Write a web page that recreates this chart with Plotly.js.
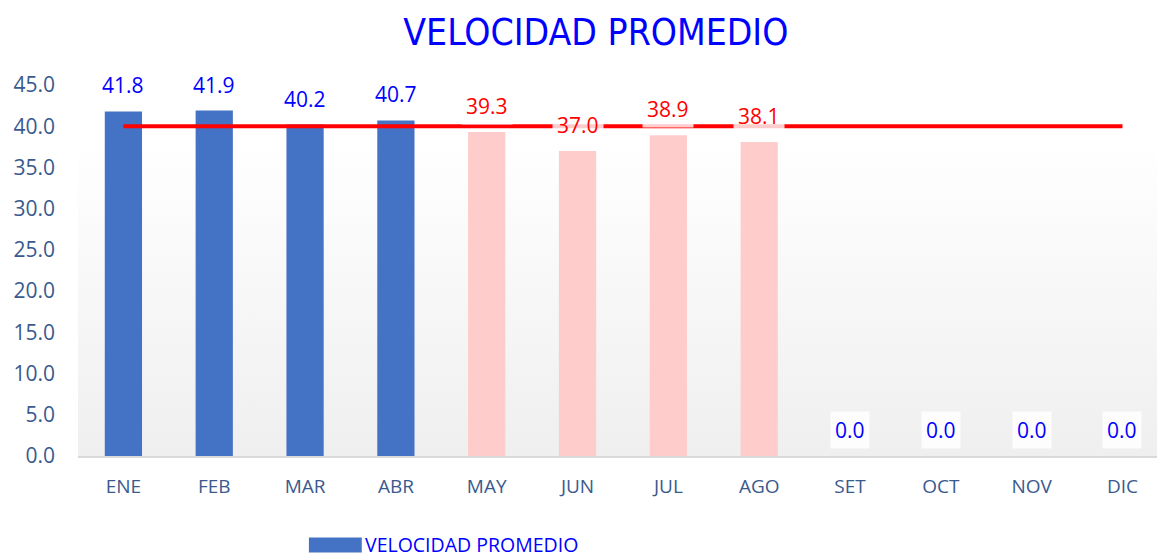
<!DOCTYPE html>
<html>
<head>
<meta charset="utf-8">
<script src="https://cdn.plot.ly/plotly-3.0.1.min.js"></script>
<style>
html,body{margin:0;padding:0;background:#fff;}
#chart{width:1157px;height:557px;}
</style>
</head>
<body>
<div id="chart"></div>
<script>
const months = ["ENE","FEB","MAR","ABR","MAY","JUN","JUL","AGO","SET","OCT","NOV","DIC"];
const velocidad = [41.8, 41.9, 40.2, 40.7, 39.3, 37.0, 38.9, 38.1, 0.0, 0.0, 0.0, 0.0];
const meta = [40, 40, 40, 40, 40, 40, 40, 40, 40, 40, 40, 40];
const barColors = ["#4472C4","#4472C4","#4472C4","#4472C4","#FFCCCC","#FFCCCC","#FFCCCC","#FFCCCC","#4472C4","#4472C4","#4472C4","#4472C4"];
const labelColors = ["#0000FF","#0000FF","#0000FF","#0000FF","#FF0000","#FF0000","#FF0000","#FF0000","#0000FF","#0000FF","#0000FF","#0000FF"];
const labelBoxes = ["rgba(0,0,0,0)","rgba(0,0,0,0)","rgba(0,0,0,0)","rgba(0,0,0,0)","rgba(255,255,255,0.8)","rgba(255,255,255,0.8)","rgba(255,255,255,0.8)","rgba(255,255,255,0.8)","rgba(255,255,255,0.85)","rgba(255,255,255,0.85)","rgba(255,255,255,0.85)","rgba(255,255,255,0.85)"];
const seriesName = "VELOCIDAD PROMEDIO";

const FONT = "Open Sans";
const tickColor = "#3A5A8E";

const traces = [
  {
    type: "bar", x: months, y: velocidad, name: seriesName,
    marker: {color: barColors}, width: 0.41, showlegend: false, hoverinfo: "x+y"
  },
  {
    type: "scatter", mode: "lines", x: months, y: meta, name: "Meta",
    line: {color: "#FF0000", width: 4}, showlegend: false, hoverinfo: "y"
  }
];

const annotations = months.map((m, i) => ({
  x: m, y: velocidad[i], xref: "x", yref: "y",
  text: velocidad[i].toFixed(1), showarrow: false, yshift: 26,
  font: {family: FONT, size: 21, color: labelColors[i]},
  bgcolor: labelBoxes[i], borderpad: 4
}));
annotations.push({
  x: 0.265, y: -0.2372, xref: "paper", yref: "paper", xanchor: "left", yanchor: "middle",
  text: seriesName, showarrow: false, borderpad: 0,
  font: {family: FONT, size: 19.5, color: "#0000FF"}
});

const gradSvg = "<svg xmlns='http://www.w3.org/2000/svg' width='100' height='100' preserveAspectRatio='none'>" +
  "<defs><linearGradient id='g' x1='0' y1='0' x2='0' y2='1'><stop offset='0' stop-color='#ffffff'/><stop offset='0.15' stop-color='#ffffff'/><stop offset='1' stop-color='#efefef'/></linearGradient></defs>" +
  "<rect width='100' height='100' fill='url(#g)'/></svg>";

const layout = {
  width: 1157, height: 557,
  margin: {l: 78, r: 0, t: 85, b: 101},
  paper_bgcolor: "#ffffff",
  plot_bgcolor: "rgba(0,0,0,0)",
  title: {text: "VELOCIDAD PROMEDIO", font: {family: "'Liberation Sans Narrow', 'DejaVu Sans Condensed', sans-serif", size: 37, color: "#0000FF"}, x: 0.515, xanchor: "center", y: 0.943, yanchor: "middle"},
  xaxis: {
    type: "category", range: [-0.5, 11.38], showgrid: false, zeroline: false,
    showline: true, linecolor: "#d9d9d9", linewidth: 2,
    ticks: "", ticklabelstandoff: 12,
    tickfont: {family: FONT, size: 19, color: tickColor}, fixedrange: true
  },
  yaxis: {
    range: [0, 45], dtick: 5, tickformat: ".1f", showgrid: false, zeroline: false,
    showline: false, ticks: "", ticklabelstandoff: 22,
    tickfont: {family: FONT, size: 21, color: tickColor}, fixedrange: true
  },
  images: [{
    source: "data:image/svg+xml;charset=utf-8," + encodeURIComponent(gradSvg),
    xref: "paper", yref: "paper", x: 0, y: 1, sizex: 1, sizey: 1,
    xanchor: "left", yanchor: "top", sizing: "stretch", layer: "below"
  }],
  shapes: [{
    type: "rect", xref: "paper", yref: "paper", x0: 0.214, x1: 0.263, y0: -0.2601, y1: -0.2197,
    fillcolor: "#4472C4", line: {width: 0}
  }],
  annotations: annotations,
  showlegend: false
};

Plotly.newPlot("chart", traces, layout, {displayModeBar: false, staticPlot: true});
</script>
</body>
</html>
